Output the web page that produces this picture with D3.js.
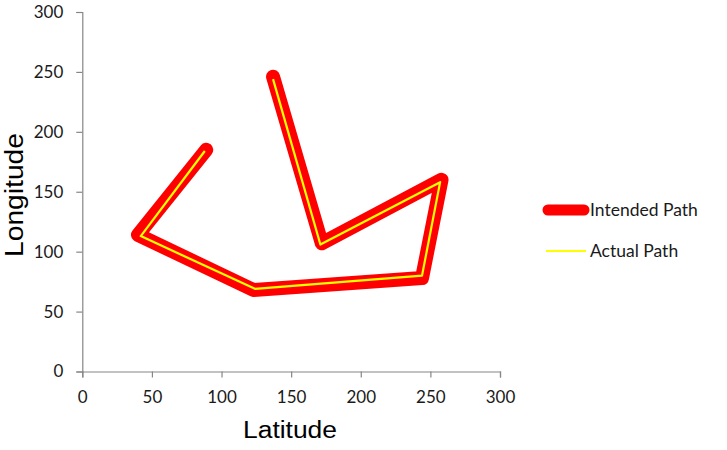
<!DOCTYPE html>
<html><head><meta charset="utf-8">
<script src="https://cdn.jsdelivr.net/npm/d3@7"></script>
<style>body{margin:0;background:#fff}</style>
</head><body>
<svg id="c" width="727" height="450"></svg>
<script>
const intendedLat = [89, 40, 123, 244, 258, 172, 137];
const intendedLon = [185, 114, 68, 78, 160, 107, 246];
const actualLat = [88, 42, 124, 244, 257, 171, 137];
const actualLon = [184, 113, 69, 80, 158, 106, 244];
const xTicks = [0, 50, 100, 150, 200, 250, 300];
const yTicks = [0, 50, 100, 150, 200, 250, 300];
const seriesNames = ["Intended Path", "Actual Path"];

const svg = d3.select("#c");
const x = d3.scaleLinear().domain([0, 300]).range([82.3, 500]);
const y = d3.scaleLinear().domain([0, 300]).range([371.5, 12]);
const tickFont = "Lato, 'Open Sans', sans-serif";
const axisColor = "#868686";

const xa = svg.append("g").attr("transform", `translate(0,${y(0)})`)
  .call(d3.axisBottom(x).tickValues(xTicks).tickSize(6).tickPadding(13));
const ya = svg.append("g").attr("transform", `translate(${x(0)},0)`)
  .call(d3.axisLeft(y).tickValues(yTicks).tickSize(6).tickPadding(13));
[xa, ya].forEach(a => {
  a.selectAll("path,line").attr("stroke", axisColor).attr("stroke-width", 1.2);
  a.selectAll("text").attr("font-family", tickFont).attr("font-size", 17).attr("fill", "#1a1a1a");
});

const line = d3.line().x(d => x(d[0])).y(d => y(d[1]));
const intended = intendedLat.map((v, i) => [v, intendedLon[i]]);
const actual = actualLat.map((v, i) => [v, actualLon[i]]);

svg.append("path").attr("d", line(intended)).attr("fill", "none")
  .attr("stroke", "#ff0000").attr("stroke-width", 14)
  .attr("stroke-linejoin", "round").attr("stroke-linecap", "round");
svg.append("path").attr("d", line(actual)).attr("fill", "none")
  .attr("stroke", "#ffff00").attr("stroke-width", 2.2)
  .attr("stroke-linejoin", "round");

svg.append("text").attr("x", 243).attr("y", 438)
  .attr("font-family", "Arial, 'Liberation Sans', sans-serif").attr("font-size", 23)
  .attr("textLength", 94).attr("lengthAdjust", "spacingAndGlyphs")
  .attr("fill", "#000").text("Latitude");
svg.append("text").attr("transform", "translate(22.5,257) rotate(-90)")
  .attr("font-family", "Arial, 'Liberation Sans', sans-serif").attr("font-size", 26)
  .attr("textLength", 124).attr("lengthAdjust", "spacingAndGlyphs")
  .attr("fill", "#000").text("Longitude");

const leg = svg.append("g");
leg.append("line").attr("x1", 548).attr("x2", 584).attr("y1", 210).attr("y2", 210)
  .attr("stroke", "#ff0000").attr("stroke-width", 11).attr("stroke-linecap", "round");
leg.append("line").attr("x1", 546).attr("x2", 586).attr("y1", 251).attr("y2", 251)
  .attr("stroke", "#ffff00").attr("stroke-width", 2.2);
leg.append("text").attr("x", 590).attr("y", 216).attr("font-family", tickFont)
  .attr("font-size", 17.5).attr("fill", "#1a1a1a").text(seriesNames[0]);
leg.append("text").attr("x", 590).attr("y", 257).attr("font-family", tickFont)
  .attr("font-size", 17.5).attr("fill", "#1a1a1a").text(seriesNames[1]);
</script>
</body></html>
